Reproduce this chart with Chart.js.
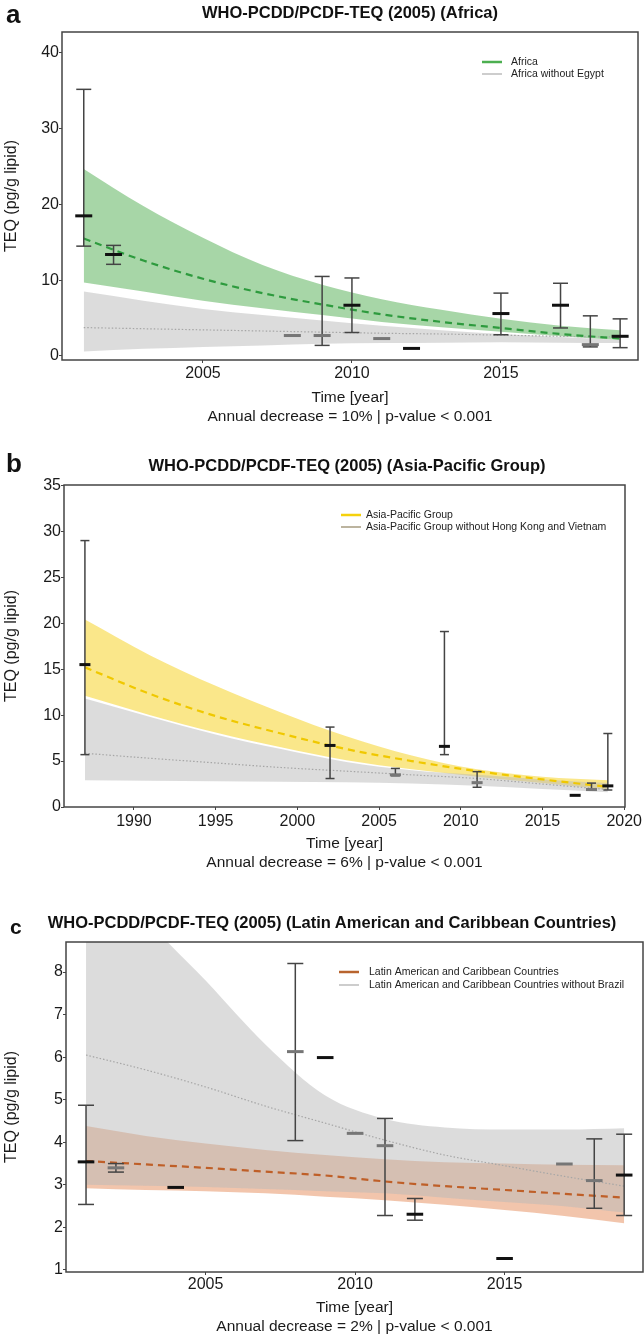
<!DOCTYPE html>
<html>
<head>
<meta charset="utf-8">
<script src="https://cdn.jsdelivr.net/npm/chart.js@4.4.1/dist/chart.umd.min.js"></script>
<style>
  body { margin: 0; background: #fff; width: 644px; height: 1337px; position: relative; overflow: hidden;
         font-family: "Liberation Sans", Arial, sans-serif; color: #111; }
  canvas { position: absolute; left: 0; }
  .lt { position: absolute; font-weight: bold; line-height: 1; white-space: nowrap; }
  .tt { position: absolute; width: 640px; text-align: center; font-weight: bold; font-size: 16.5px; line-height: 1; white-space: nowrap; }
</style>
</head>
<body>
<canvas id="chartA" width="644" height="430" style="top:0px"></canvas>
<canvas id="chartB" width="644" height="440" style="top:440px"></canvas>
<canvas id="chartC" width="644" height="447" style="top:890px"></canvas>

<div class="lt" style="left:6px; top:1px; font-size:26px">a</div>
<div class="tt" style="left:30px; top:4px">WHO-PCDD/PCDF-TEQ (2005) (Africa)</div>
<div class="lt" style="left:6px; top:450px; font-size:26px">b</div>
<div class="tt" style="left:27px; top:457px">WHO-PCDD/PCDF-TEQ (2005) (Asia-Pacific Group)</div>
<div class="lt" style="left:10px; top:916px; font-size:21px">c</div>
<div class="tt" style="left:12px; top:914px">WHO-PCDD/PCDF-TEQ (2005) (Latin American and Caribbean Countries)</div>

<script>
Chart.defaults.font.family = '"Liberation Sans", Arial, sans-serif'
Chart.defaults.color = '#1a1a1a'

// ---------- a : Africa ----------
const fitYearsA = [2001, 2003, 2005, 2007, 2009, 2011, 2013, 2015, 2017, 2019]
const fitA = [15.5, 12.6, 10.2, 8.3, 6.8, 5.5, 4.5, 3.7, 2.9, 2.3]
const upperA = [24.7, 19.8, 15.6, 12.0, 9.4, 7.5, 6.1, 4.9, 4.0, 3.4]
const lowerA = [9.7, 8.5, 7.3, 6.3, 5.4, 4.5, 3.8, 3.2, 2.6, 2.1]
const grayFitA = [3.75, 3.6, 3.45, 3.3, 3.15, 3.0, 2.9, 2.75, 2.6, 2.5]
const grayUpperA = [8.5, 7.3, 6.2, 5.4, 4.7, 4.0, 3.4, 2.9, 2.5, 2.1]
const grayLowerA = [0.6, 0.95, 1.2, 1.4, 1.6, 1.7, 1.75, 1.8, 1.75, 1.7]
const errYearsA = [2001, 2002, 2009, 2010, 2015, 2017, 2018, 2019]
const errLowA = [14.5, 12.1, 1.4, 3.1, 2.8, 3.7, 1.2, 1.1]
const errHighA = [35.2, 14.6, 10.5, 10.3, 8.3, 9.6, 5.3, 4.9]
const markYearsA = [2001, 2002, 2010, 2012, 2015, 2017, 2019]
const marksA = [18.5, 13.4, 6.7, 1.0, 5.6, 6.7, 2.6]
const grayMarkYearsA = [2008, 2009, 2011, 2018]
const grayMarksA = [2.7, 2.7, 2.3, 1.5]
const xTicksA = [2005, 2010, 2015]
const yTicksA = [0, 10, 20, 30, 40]

// ---------- b : Asia-Pacific Group ----------
const fitYearsB = [1987, 1991, 1995, 1999, 2003, 2007, 2011, 2015, 2019]
const fitB = [15.2, 12.3, 9.9, 8.0, 6.3, 5.0, 3.9, 3.0, 2.2]
const upperB = [20.4, 16.5, 13.2, 10.3, 7.7, 5.6, 4.1, 3.3, 2.9]
const lowerB = [12.1, 10.0, 8.1, 6.5, 5.1, 4.1, 3.3, 2.6, 1.9]
const grayFitB = [5.85, 5.3, 4.8, 4.3, 3.9, 3.5, 3.1, 2.5, 1.9]
const grayUpperB = [11.8, 9.8, 7.9, 6.3, 4.9, 4.0, 3.5, 3.0, 2.6]
const grayLowerB = [2.9, 2.85, 2.8, 2.75, 2.7, 2.55, 2.3, 1.95, 1.6]
const errYearsB = [1987, 2002, 2006, 2009, 2011, 2018, 2019]
const errLowB = [5.7, 3.1, 3.4, 5.7, 2.15, 1.85, 1.85]
const errHighB = [29.0, 8.7, 4.2, 19.1, 3.85, 2.6, 8.0]
const markYearsB = [1987, 2002, 2009, 2017, 2019]
const marksB = [15.5, 6.7, 6.6, 1.27, 2.3]
const grayMarkYearsB = [2006, 2011, 2018]
const grayMarksB = [3.5, 2.65, 1.9]
const xTicksB = [1990, 1995, 2000, 2005, 2010, 2015, 2020]
const yTicksB = [0, 5, 10, 15, 20, 25, 30, 35]

// ---------- c : Latin American and Caribbean Countries ----------
const fitYearsC = [2001, 2003, 2005, 2007, 2009, 2011, 2013, 2015, 2017, 2019]
const fitC = [3.56, 3.48, 3.40, 3.31, 3.22, 3.08, 2.97, 2.88, 2.79, 2.70]
const upperC = [4.38, 4.15, 3.97, 3.82, 3.7, 3.6, 3.53, 3.5, 3.47, 3.46]
const lowerC = [2.92, 2.88, 2.85, 2.8, 2.72, 2.64, 2.53, 2.41, 2.27, 2.1]
const grayFitC = [6.05, 5.7, 5.3, 4.85, 4.45, 4.05, 3.7, 3.45, 3.2, 2.97]
const grayUpperC = [11.5, 9.3, 7.8, 6.3, 5.1, 4.55, 4.35, 4.3, 4.3, 4.33]
const grayLowerC = [3.0, 2.98, 2.95, 2.9, 2.85, 2.8, 2.7, 2.6, 2.5, 2.35]
const errYearsC = [2001, 2002, 2008, 2011, 2012, 2018, 2019]
const errLowC = [2.54, 3.30, 4.04, 2.28, 2.17, 2.45, 2.28]
const errHighC = [4.87, 3.50, 8.2, 4.56, 2.68, 4.08, 4.19]
const markYearsC = [2001, 2004, 2009, 2012, 2015, 2019]
const marksC = [3.54, 2.94, 5.99, 2.31, 1.27, 3.23]
const grayMarkYearsC = [2002, 2008, 2010, 2011, 2017, 2018]
const grayMarksC = [3.40, 6.13, 4.21, 3.92, 3.49, 3.10]
const xTicksC = [2005, 2010, 2015]
const yTicksC = [1, 2, 3, 4, 5, 6, 7, 8]

function pts(xs, ys) {
  return xs.map((x, i) => ({x: x, y: ys[i]}))
}

// vertical error bar segments, separated by gaps
function barPts(xs, lo, hi) {
  let out = []
  xs.forEach((x, i) => { out.push({x: x, y: lo[i]}, {x: x, y: hi[i]}, {x: x, y: null}) })
  return out
}

// box round the plot + legend inside it
const frame = {
  id: 'frame',
  afterDraw(chart, args, opts) {
    const ctx = chart.ctx
    const a = chart.chartArea
    ctx.save()
    ctx.strokeStyle = '#444'
    ctx.lineWidth = 1.5
    ctx.strokeRect(a.left, a.top, a.right - a.left, a.bottom - a.top)
    ctx.font = '10.5px "Liberation Sans", Arial, sans-serif'
    ctx.textBaseline = 'middle'
    ctx.fillStyle = '#222'
    opts.items.forEach((it, i) => {
      ctx.beginPath()
      ctx.strokeStyle = it.color
      ctx.lineWidth = it.w
      ctx.moveTo(opts.x0, opts.ys[i])
      ctx.lineTo(opts.x1, opts.ys[i])
      ctx.stroke()
      ctx.fillText(it.label, opts.tx, opts.ys[i])
    })
    ctx.restore()
  }
}

function line(data, color, width, dash) {
  return {data: data, showLine: true, borderColor: color, borderWidth: width, borderDash: dash,
          pointRadius: 0, cubicInterpolationMode: 'monotone'}
}
function edge(data, fill, bg) {
  return {data: data, showLine: true, fill: fill, backgroundColor: bg, borderColor: 'transparent',
          borderWidth: 0, pointRadius: 0, cubicInterpolationMode: 'monotone'}
}

function makeChart(id, p) {
  return new Chart(document.getElementById(id).getContext('2d'), {
    type: 'scatter',
    data: {
      datasets: [
        {data: pts(p.grayMarkYears, p.grayMarks), pointStyle: 'line', pointRadius: p.markR,
         pointBorderWidth: 3, borderColor: '#767676', pointBorderColor: '#767676'},
        {data: pts(p.markYears, p.marks), pointStyle: 'line', pointRadius: p.markR,
         pointBorderWidth: 3, borderColor: '#111', pointBorderColor: '#111'},
        {data: pts(p.errYears, p.errLow).concat(pts(p.errYears, p.errHigh)), pointStyle: 'line',
         pointRadius: p.capR, pointBorderWidth: 1.5, borderColor: '#444', pointBorderColor: '#444'},
        {data: barPts(p.errYears, p.errLow, p.errHigh), showLine: true, spanGaps: false,
         pointRadius: 0, borderColor: '#444', borderWidth: 1.5},
        line(pts(p.fitYears, p.fit), p.fitColor, 2.2, [7, 5]),
        line(pts(p.fitYears, p.grayFit), '#a6a6a6', 1.2, [1.5, 2]),
        edge(pts(p.fitYears, p.grayUpper), '+1', 'rgba(185,185,185,0.5)'),
        edge(pts(p.fitYears, p.grayLower), false, 'transparent'),
        edge(pts(p.fitYears, p.upper), '+1', p.bandColor),
        edge(pts(p.fitYears, p.lower), false, 'transparent')
      ]
    },
    options: {
      responsive: false,
      animation: false,
      events: [],
      layout: {padding: {top: p.padTop, right: p.padRight, left: 0, bottom: 0}, autoPadding: false},
      plugins: {
        legend: {display: false},
        tooltip: {enabled: false},
        frame: p.legend
      },
      scales: {
        x: {
          type: 'linear', min: p.xMin, max: p.xMax,
          afterBuildTicks: s => { s.ticks = p.xTicks.map(v => ({value: v})) },
          afterFit: s => { s.height = p.xAxisH },
          border: {display: false},
          grid: {drawOnChartArea: false, tickLength: 3, color: '#444'},
          ticks: {font: {size: 16}, padding: p.tickPad, maxRotation: 0, autoSkip: false, callback: v => String(v)},
          title: {display: true, text: ['Time [year]', p.note], font: {size: 15.5, lineHeight: '19px'},
                  padding: {top: 0, bottom: p.titlePad}}
        },
        y: {
          min: p.yMin, max: p.yMax,
          afterBuildTicks: s => { s.ticks = p.yTicks.map(v => ({value: v})) },
          afterFit: s => { s.width = p.yAxisW },
          border: {display: false},
          grid: {drawOnChartArea: false, tickLength: 3, color: '#444'},
          ticks: {font: {size: 16}, padding: 0, autoSkip: false, callback: v => String(v)},
          title: {display: true, text: 'TEQ (pg/g lipid)', font: {size: 16}, padding: {top: 2.4, bottom: 0}}
        }
      }
    },
    plugins: [frame]
  })
}

makeChart('chartA', {
  fitYears: fitYearsA, fit: fitA, upper: upperA, lower: lowerA,
  grayFit: grayFitA, grayUpper: grayUpperA, grayLower: grayLowerA,
  errYears: errYearsA, errLow: errLowA, errHigh: errHighA,
  markYears: markYearsA, marks: marksA, grayMarkYears: grayMarkYearsA, grayMarks: grayMarksA,
  xTicks: xTicksA, yTicks: yTicksA,
  xMin: 2000.27, xMax: 2019.6, yMin: -0.53, yMax: 42.77,
  padTop: 32, padRight: 6, yAxisW: 62, xAxisH: 70, tickPad: 1, titlePad: 3.5,
  capR: 7.5, markR: 8.5,
  fitColor: '#2e9b3e', bandColor: 'rgba(95,180,95,0.55)',
  note: 'Annual decrease = 10% | p-value < 0.001',
  legend: {x0: 482, x1: 502, tx: 511, ys: [62, 74], items: [
    {label: 'Africa', color: '#4caf50', w: 2.5},
    {label: 'Africa without Egypt', color: '#bdbdbd', w: 1.5}]}
})

makeChart('chartB', {
  fitYears: fitYearsB, fit: fitB, upper: upperB, lower: lowerB,
  grayFit: grayFitB, grayUpper: grayUpperB, grayLower: grayLowerB,
  errYears: errYearsB, errLow: errLowB, errHigh: errHighB,
  markYears: markYearsB, marks: marksB, grayMarkYears: grayMarkYearsB, grayMarks: grayMarksB,
  xTicks: xTicksB, yTicks: yTicksB,
  xMin: 1985.72, xMax: 2020.05, yMin: 0, yMax: 35.05,
  padTop: 45, padRight: 16, yAxisW: 64, xAxisH: 73, tickPad: 2, titlePad: 7.5,
  capR: 4.5, markR: 5.5,
  fitColor: '#f0c800', bandColor: 'rgba(247,215,60,0.6)',
  note: 'Annual decrease = 6% | p-value < 0.001',
  legend: {x0: 341, x1: 361, tx: 366, ys: [75, 87], items: [
    {label: 'Asia-Pacific Group', color: '#f5d10c', w: 2.5},
    {label: 'Asia-Pacific Group without Hong Kong and Vietnam', color: '#a69b7f', w: 1.5}]}
})

makeChart('chartC', {
  fitYears: fitYearsC, fit: fitC, upper: upperC, lower: lowerC,
  grayFit: grayFitC, grayUpper: grayUpperC, grayLower: grayLowerC,
  errYears: errYearsC, errLow: errLowC, errHigh: errHighC,
  markYears: markYearsC, marks: marksC, grayMarkYears: grayMarkYearsC, grayMarks: grayMarksC,
  xTicks: xTicksC, yTicks: yTicksC,
  xMin: 2000.33, xMax: 2019.63, yMin: 0.953, yMax: 8.705,
  padTop: 52, padRight: 1, yAxisW: 66, xAxisH: 65, tickPad: 0, titlePad: 0.5,
  capR: 8, markR: 8.3,
  fitColor: '#bf5f28', bandColor: 'rgba(230,140,90,0.5)',
  note: 'Annual decrease = 2% | p-value < 0.001',
  legend: {x0: 339, x1: 359, tx: 369, ys: [82, 95], items: [
    {label: 'Latin American and Caribbean Countries', color: '#b8642e', w: 2.5},
    {label: 'Latin American and Caribbean Countries without Brazil', color: '#bdbdbd', w: 1.5}]}
})
</script>
</body>
</html>
